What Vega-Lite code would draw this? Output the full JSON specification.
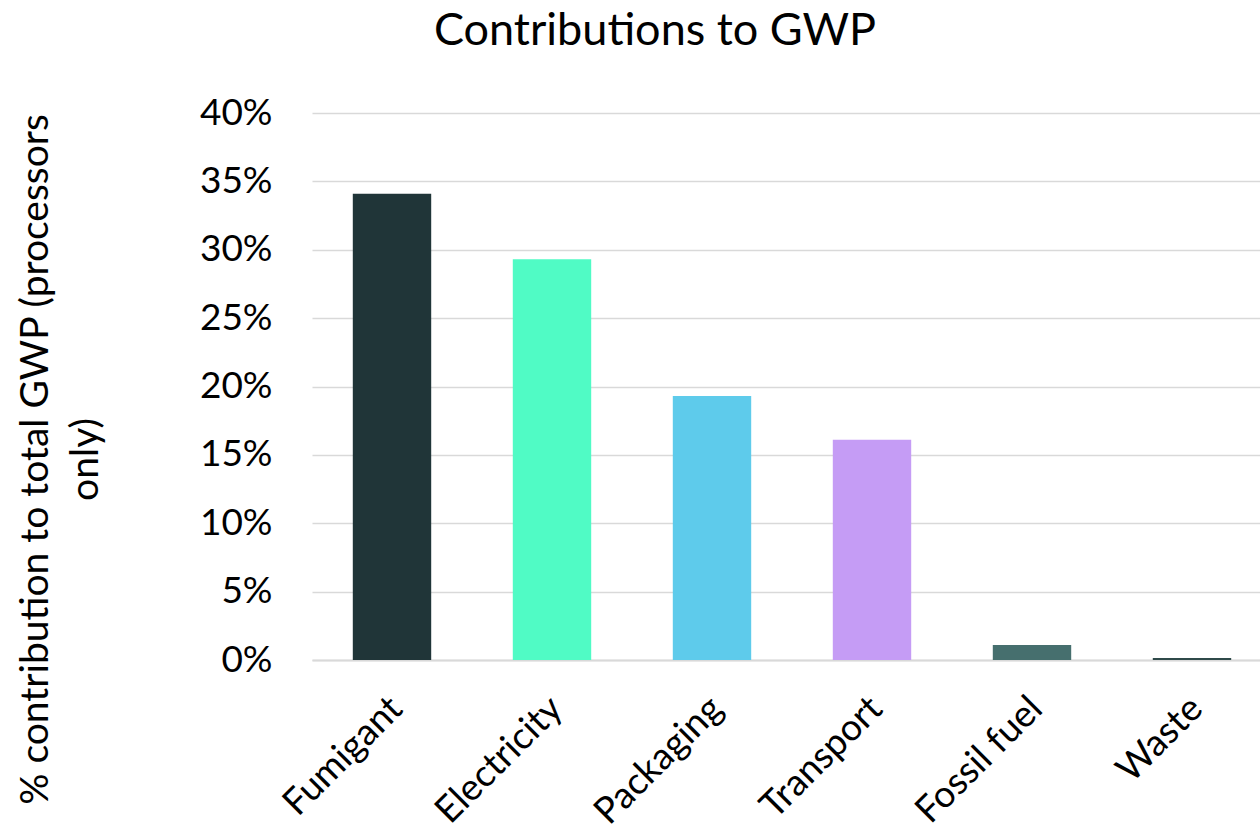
{
  "$schema": "https://vega.github.io/schema/vega-lite/v6.json",
  "autosize": "none",
  "width": 960,
  "height": 547,
  "padding": {"left": 312, "top": 113, "right": 0, "bottom": 178},
  "background": "white",
  "title": {
    "text": "Contributions to GWP",
    "font": "Lato",
    "fontSize": 45,
    "fontWeight": "normal",
    "color": "#000000",
    "anchor": "middle",
    "dx": -137,
    "offset": 40
  },
  "data": {
    "values": [
      {"source": "Fumigant", "share": 0.341, "color": "#203538"},
      {"source": "Electricity", "share": 0.293, "color": "#50FBC5"},
      {"source": "Packaging", "share": 0.193, "color": "#5ECBEB"},
      {"source": "Transport", "share": 0.161, "color": "#C59CF5"},
      {"source": "Fossil fuel", "share": 0.011, "color": "#466F6E"},
      {"source": "Waste", "share": 0.0015, "color": "#2F4A4A"}
    ]
  },
  "mark": {"type": "bar"},
  "encoding": {
    "x": {
      "field": "source",
      "type": "nominal",
      "sort": null,
      "scale": {"paddingInner": 0.51, "paddingOuter": 0.255},
      "axis": {
        "title": null,
        "labelAngle": -45,
        "labelFont": "Lato",
        "labelFontSize": 37,
        "labelColor": "#000000",
        "labelPadding": 30,
        "labelOffset": -8,
        "ticks": false,
        "domainColor": "#d9d9d9",
        "domainWidth": 2
      }
    },
    "y": {
      "field": "share",
      "type": "quantitative",
      "scale": {"domain": [0, 0.4]},
      "axis": {
        "values": [0, 0.05, 0.1, 0.15, 0.2, 0.25, 0.3, 0.35, 0.4],
        "format": ".0%",
        "title": ["% contribution to total GWP (processors", "only)"],
        "titleFont": "Lato",
        "titleFontSize": 39,
        "titleFontWeight": "normal",
        "titleColor": "#000000",
        "titleLineHeight": 50,
        "titleX": -277,
        "titleY": 346,
        "titleAngle": -90,
        "titleAlign": "center",
        "titleBaseline": "middle",
        "labelFont": "Lato",
        "labelFontSize": 37,
        "labelColor": "#000000",
        "labelPadding": 40,
        "ticks": false,
        "domain": false,
        "gridColor": "#d9d9d9",
        "gridWidth": 1.5
      }
    },
    "color": {"field": "color", "type": "nominal", "scale": null, "legend": null}
  },
  "config": {"view": {"stroke": null}}
}
